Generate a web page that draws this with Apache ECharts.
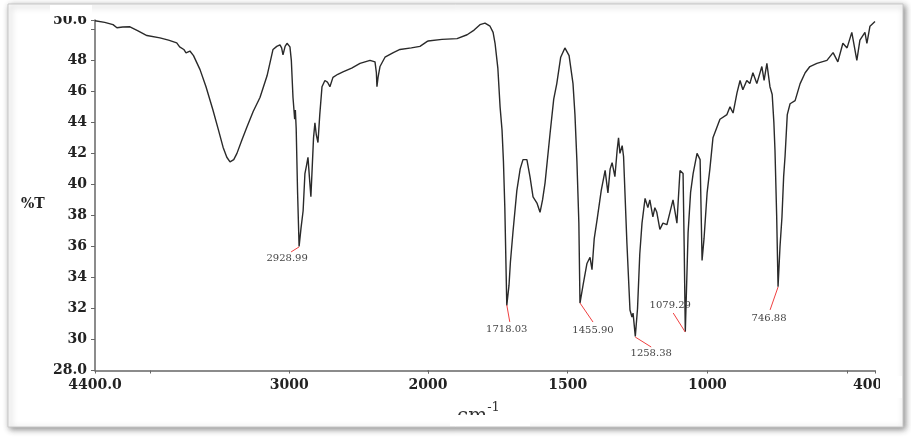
<!DOCTYPE html>
<html>
<head>
<meta charset="utf-8">
<script src="https://cdn.jsdelivr.net/npm/echarts@6/dist/echarts.min.js"></script>
<style>html,body{margin:0;padding:0;background:#fff}#c{width:911px;height:438px}</style>
</head>
<body>
<div id="c"></div>
<script>
// ---- DATA ----
const wavenumbers = [4400,4330,4270,4242,4200,4148,4090,4026,3932,3870,3811,3790,3760,3744,3716,3690,3643,3600,3550,3510,3477,3450,3427,3400,3377,3340,3305,3260,3211,3160,3117,3090,3067,3055,3045,3030,3016,2995,2985,2973,2966,2961,2956,2950,2940,2929,2915,2900,2887,2876,2865,2855,2844,2835,2825,2815,2805,2793,2780,2764,2743,2725,2707,2685,2650,2613,2550,2490,2418,2382,2372,2368,2360,2346,2310,2250,2202,2120,2058,2000,1950,1896,1860,1835,1814,1796,1778,1767,1760,1750,1742,1735,1730,1725,1718,1710,1705,1696,1682,1670,1660,1646,1635,1624,1610,1599,1590,1581,1563,1550,1539,1525,1510,1495,1481,1474,1467,1460,1456,1445,1431,1420,1413,1405,1395,1380,1366,1356,1348,1341,1331,1323,1318,1313,1305,1300,1288,1277,1270,1266,1258,1250,1242,1234,1223,1213,1206,1195,1188,1181,1170,1159,1145,1134,1123,1109,1098,1087,1083,1079,1069,1060,1051,1037,1026,1019,1012,1001,991,980,955,930,919,908,894,883,873,859,848,837,823,805,797,787,776,768,762,758,752,747,740,733,727,722,714,704,686,668,650,633,608,572,550,533,515,500,483,465,454,436,429,418,400];
const transmittance = [50.55,50.45,50.3,50.1,50.15,50.16,49.9,49.6,49.45,49.3,49.13,48.87,48.7,48.48,48.6,48.3,47.4,46.3,44.8,43.5,42.4,41.75,41.45,41.6,42.0,42.9,43.7,44.7,45.6,47.0,48.7,48.9,49.0,48.8,48.35,48.9,49.1,48.87,48.0,45.6,44.8,44.2,44.8,43.6,39.5,36.0,37.2,38.3,40.7,41.2,41.75,40.5,39.2,41.0,43.0,43.97,43.2,42.7,44.5,46.3,46.7,46.6,46.3,46.9,47.1,47.25,47.5,47.8,48.0,47.9,47.2,46.3,46.9,47.6,48.2,48.5,48.7,48.8,48.9,49.25,49.35,49.4,49.65,49.95,50.3,50.4,50.2,49.8,49.1,47.5,45.0,43.5,41.5,38.5,32.2,33.5,35.0,36.9,39.6,41.0,41.6,41.6,40.5,39.2,38.8,38.2,39.0,40.1,43.3,45.5,46.5,48.2,48.8,48.3,46.5,44.5,41.5,37.5,32.35,33.5,34.9,35.3,34.5,36.5,37.7,39.6,40.9,39.45,41.0,41.4,40.5,42.2,43.0,42.0,42.5,41.8,36.2,31.9,31.45,31.7,30.2,32.0,35.5,37.5,39.1,38.5,39.0,37.9,38.5,38.2,37.1,37.5,37.4,38.2,39.0,37.5,40.9,40.7,36.0,30.5,36.9,39.5,40.7,42.0,41.6,35.1,36.5,39.45,41.0,43.0,44.2,44.5,45.0,44.6,45.9,46.7,46.1,46.7,46.5,47.2,46.5,47.6,46.7,47.8,46.3,45.8,44.0,42.2,38.0,33.4,36.0,37.9,40.5,41.8,44.5,45.2,45.4,46.5,47.2,47.6,47.8,48.0,48.5,47.9,49.1,48.8,49.8,48.0,49.3,49.8,49.1,50.2,50.5];

const peakWavenumbers = [2928.99, 1718.03, 1455.90, 1258.38, 1079.29, 746.88];
const peakTransmittance = [35.97, 32.23, 32.35, 30.16, 30.48, 33.39];
const peakLabels = ['2928.99', '1718.03', '1455.90', '1258.38', '1079.29', '746.88'];

const yTicks = [28,30,32,34,36,38,40,42,44,46,48,50,50.6];
const yLabelValues = [28,30,32,34,36,38,40,42,44,46,48,50.6];
const xTicksHigh = [4400,4000,3000,2000];
const xLabelsHigh = [4400,3000];
const xTicksLow = [2000,1500,1000,500,400];
const xLabelsLow = [2000,1500,1000,400];

// ---- LAYOUT (pixel offsets of peak markers, not data) ----
const peakLineEnd = [[-8,5],[3,17],[13,19],[16,10],[-12,-19],[-8,23]];
const peakLabelPos = [[-12,12],[0,25],[13,27],[16,16],[-15,-27],[-9,31]];

const highPts = [], lowPts = [];
wavenumbers.forEach((w,i)=>{
  if (w >= 2000) highPts.push([w, transmittance[i]]);
  if (w <= 2000) lowPts.push([w, transmittance[i]]);
});
const highPeaks = [], lowPeaks = [];
peakWavenumbers.forEach((w,i)=>{
  (w >= 2000 ? highPeaks : lowPeaks).push([w, peakTransmittance[i], i]);
});

const tickFont = {fontFamily:'"DejaVu Serif"', fontWeight:'bold', fontSize:14, color:'#222'};
const axisLineStyle = {color:'#666', width:1.5};

function peakRender(params, api){
  const p = api.coord([api.value(0), api.value(1)]);
  const i = api.value(2);
  const e = peakLineEnd[i], t = peakLabelPos[i];
  return {type:'group', children:[
    {type:'line', shape:{x1:p[0], y1:p[1], x2:p[0]+e[0], y2:p[1]+e[1]}, style:{stroke:'#f04040', lineWidth:1}},
    {type:'text', style:{text:peakLabels[i], x:p[0]+t[0], y:p[1]+t[1], fill:'#444', font:'10px "DejaVu Serif"', align:'center', verticalAlign:'middle'}}
  ]};
}

const yAxisBase = {type:'value', min:28, max:50.6};
const chart = echarts.init(document.getElementById('c'), null, {renderer:'canvas'});
chart.setOption({
  animation:false,
  backgroundColor:'#fff',
  graphic:[
    {type:'rect', z:-100, shape:{x:8,y:4,width:895,height:423}, style:{fill:'#fff', stroke:'#c8c8c8', lineWidth:1, shadowBlur:6, shadowColor:'rgba(0,0,0,0.45)', shadowOffsetX:2, shadowOffsetY:2}},
    {type:'text', z:50, left:21, top:197, style:{text:'%T', font:'bold 14px "DejaVu Serif"', fill:'#222'}},
    {type:'text', z:50, left:457, top:401, style:{text:'{a|cm}{b|-1}', rich:{a:{fontFamily:'"DejaVu Serif"', fontSize:20, fill:'#333', padding:[6,0,0,0]}, b:{fontFamily:'"DejaVu Serif"', fontSize:13, fill:'#333', verticalAlign:'top'}}}},
    {type:'rect', z:100, shape:{x:450,y:415,width:80,height:11}, style:{fill:'#fff'}},
    {type:'rect', z:100, shape:{x:50,y:5,width:42,height:11}, style:{fill:'#fff'}},
    {type:'rect', z:100, shape:{x:880,y:376,width:22,height:22}, style:{fill:'#fff'}}
  ],
  grid:[
    {left:95, top:20, width:333, height:350.5},
    {left:428, top:20, width:447, height:350.5}
  ],
  xAxis:[
    {gridIndex:0, type:'value', min:2000, max:4400, inverse:true,
     axisLine:{show:true, onZero:false, lineStyle:axisLineStyle},
     axisTick:{show:true, length:3, customValues:xTicksHigh, lineStyle:{color:'#666'}},
     axisLabel:Object.assign({customValues:xLabelsHigh, margin:8, formatter:v=> v===4400?'4400.0':String(v)}, tickFont),
     splitLine:{show:false}},
    {gridIndex:1, type:'value', min:400, max:2000, inverse:true,
     axisLine:{show:true, onZero:false, lineStyle:axisLineStyle},
     axisTick:{show:true, length:3, customValues:xTicksLow, lineStyle:{color:'#666'}},
     axisLabel:Object.assign({customValues:xLabelsLow, margin:8, formatter:v=> v===400?'400.0':String(v)}, tickFont),
     splitLine:{show:false}}
  ],
  yAxis:[
    Object.assign({gridIndex:0,
     axisLine:{show:true, onZero:false, lineStyle:axisLineStyle},
     axisTick:{show:true, length:4, customValues:yTicks, lineStyle:{color:'#666'}},
     axisLabel:Object.assign({customValues:yLabelValues, margin:8, formatter:v=> v===28?'28.0':(Number.isInteger(v)?String(v):v.toFixed(1))}, tickFont),
     splitLine:{show:false}}, yAxisBase),
    Object.assign({gridIndex:1, show:false, splitLine:{show:false}}, yAxisBase)
  ],
  series:[
    {type:'line', xAxisIndex:0, yAxisIndex:0, data:highPts, showSymbol:false, smooth:false, lineStyle:{color:'#2a2a2a', width:1.4}, z:3},
    {type:'line', xAxisIndex:1, yAxisIndex:1, data:lowPts, showSymbol:false, smooth:false, lineStyle:{color:'#2a2a2a', width:1.4}, z:3},
    {type:'custom', xAxisIndex:0, yAxisIndex:0, data:highPeaks, renderItem:peakRender, clip:false, z:4},
    {type:'custom', xAxisIndex:1, yAxisIndex:1, data:lowPeaks, renderItem:peakRender, clip:false, z:4}
  ]
});
</script>
</body>
</html>
